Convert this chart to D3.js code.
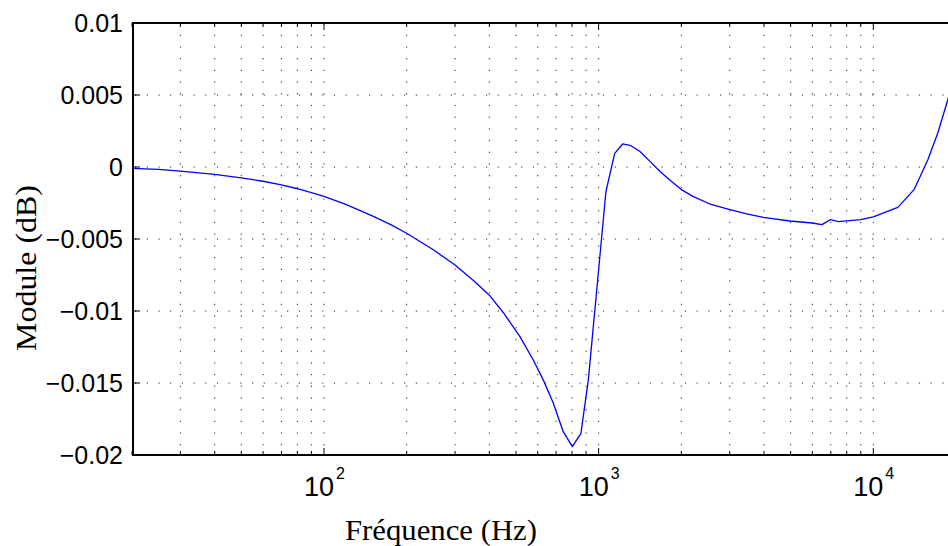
<!DOCTYPE html>
<html>
<head>
<meta charset="utf-8">
<script src="https://cdn.jsdelivr.net/npm/d3@7"></script>
<style>
  html, body { margin: 0; padding: 0; background: #fff; }
  svg { display: block; }
</style>
</head>
<body>
<svg id="chart" width="948" height="546"></svg>
<script>
// ---- data ----
const freq = [20, 25, 30, 40, 50, 60, 70, 80, 90, 100, 120, 150, 175, 200, 250, 300, 350, 400, 450, 517, 578, 629, 684, 743, 802, 862, 917, 989, 1063, 1144, 1223, 1312, 1414, 1538, 1673, 1819, 1995, 2212, 2543, 2983, 3459, 3977, 4973, 5980, 6500, 6970, 7470, 9000, 10000, 12280, 14100, 15780, 17160, 18660, 20000];
const moduleDb = [-0.00009, -0.00016, -0.00028, -0.00051, -0.00075, -0.00099, -0.00124, -0.00151, -0.00178, -0.00204, -0.0026, -0.00339, -0.004, -0.0046, -0.00575, -0.0068, -0.00788, -0.0089, -0.01012, -0.01178, -0.0134, -0.0148, -0.01641, -0.01838, -0.01942, -0.0185, -0.0148, -0.0081, -0.0017, 0.00095, 0.0016, 0.00148, 0.00108, 0.00039, -0.00031, -0.00092, -0.00155, -0.00206, -0.00257, -0.00294, -0.00326, -0.0035, -0.00375, -0.00389, -0.0040, -0.00366, -0.0038, -0.00366, -0.00347, -0.0028, -0.00155, 0.00049, 0.00234, 0.00465, 0.0068];

const xDomain = [20, 20000];
const yDomain = [-0.02, 0.01];
const xMajorTicks = [100, 1000, 10000];
const xMajorExponents = ["2", "3", "4"];
const yTicks = [-0.02, -0.015, -0.01, -0.005, 0, 0.005, 0.01];
const yTickLabels = ["\u22120.02", "\u22120.015", "\u22120.01", "\u22120.005", "0", "0.005", "0.01"];
const xLabel = "Fréquence (Hz)";
const yLabel = "Module (dB)";

(function () {
// ---- layout ----
const pL = 133, pR = 956, pT = 23, pB = 455;
const svg = d3.select("#chart");
const x = d3.scaleLog().domain(xDomain).range([132, 956]);
const y = d3.scaleLinear().domain(yDomain).range([pB, pT]);

const allXTicks = x.ticks().filter(v => v >= xDomain[0] && v <= xDomain[1]);
const isMajor = v => xMajorTicks.includes(v);

// grid
const grid = svg.append("g").attr("stroke", "#222").attr("stroke-width", 1)
  .attr("stroke-dasharray", "1.2,10.5");
grid.selectAll("line.vx").data(allXTicks.filter(v => x(v) > pL + 2)).enter().append("line")
  .attr("x1", d => x(d)).attr("x2", d => x(d)).attr("y1", pT).attr("y2", pB);
grid.selectAll("line.hy").data(yTicks.filter(v => v > yDomain[0] && v < yDomain[1])).enter().append("line")
  .attr("x1", pL + 2).attr("x2", pR).attr("y1", d => y(d)).attr("y2", d => y(d));

// curve
const line = d3.line().x((d, i) => x(freq[i])).y(d => y(d));
svg.append("path").datum(moduleDb).attr("d", line)
  .attr("fill", "none").attr("stroke", "#0000ff").attr("stroke-width", 1.3)
  .attr("stroke-linejoin", "round");

// ticks
const ticks = svg.append("g").attr("stroke", "#000").attr("stroke-width", 1);
allXTicks.forEach(v => {
  const L = isMajor(v) ? 7 : 4;
  ticks.append("line").attr("x1", x(v)).attr("x2", x(v)).attr("y1", pB).attr("y2", pB - L);
  ticks.append("line").attr("x1", x(v)).attr("x2", x(v)).attr("y1", pT).attr("y2", pT + L);
});
yTicks.forEach(v => {
  ticks.append("line").attr("x1", pL).attr("x2", pL + 7).attr("y1", y(v)).attr("y2", y(v));
});

// axes box
const box = svg.append("g").attr("stroke", "#000").attr("stroke-width", 2).attr("fill", "none");
box.append("line").attr("x1", pL).attr("x2", pR).attr("y1", pT).attr("y2", pT);
box.append("line").attr("x1", pL).attr("x2", pR).attr("y1", pB).attr("y2", pB);
box.append("line").attr("x1", pL).attr("x2", pL).attr("y1", pT - 1).attr("y2", pB + 1);
box.append("line").attr("x1", pR).attr("x2", pR).attr("y1", pT).attr("y2", pB);

// y tick labels
svg.append("g").selectAll("text").data(yTicks).enter().append("text")
  .attr("x", 123).attr("y", d => y(d) + 9)
  .attr("text-anchor", "end")
  .attr("font-family", "Liberation Sans, Arial, sans-serif").attr("font-size", 25)
  .attr("fill", "#000")
  .text((d, i) => yTickLabels[i]);

// x tick labels (10^n)
const xl = svg.append("g");
xMajorTicks.forEach((v, i) => {
  const t = xl.append("text").attr("x", x(v) - 20).attr("y", 496)
    .attr("font-family", "Liberation Sans, Arial, sans-serif").attr("font-size", 27).attr("fill", "#000");
  t.append("tspan").text("10");
  t.append("tspan").attr("dx", 2).attr("dy", -17).attr("font-size", 16).text(xMajorExponents[i]);
});

// axis labels
svg.append("text").attr("x", 441).attr("y", 540).attr("text-anchor", "middle")
  .attr("font-family", "Liberation Serif, Times New Roman, serif").attr("font-size", 29)
  .attr("textLength", 192).attr("lengthAdjust", "spacingAndGlyphs")
  .text(xLabel);
svg.append("text").attr("transform", "translate(36,268) rotate(-90)").attr("text-anchor", "middle")
  .attr("font-family", "Liberation Serif, Times New Roman, serif").attr("font-size", 29)
  .attr("textLength", 166).attr("lengthAdjust", "spacingAndGlyphs")
  .text(yLabel);
})();
</script>
</body>
</html>
